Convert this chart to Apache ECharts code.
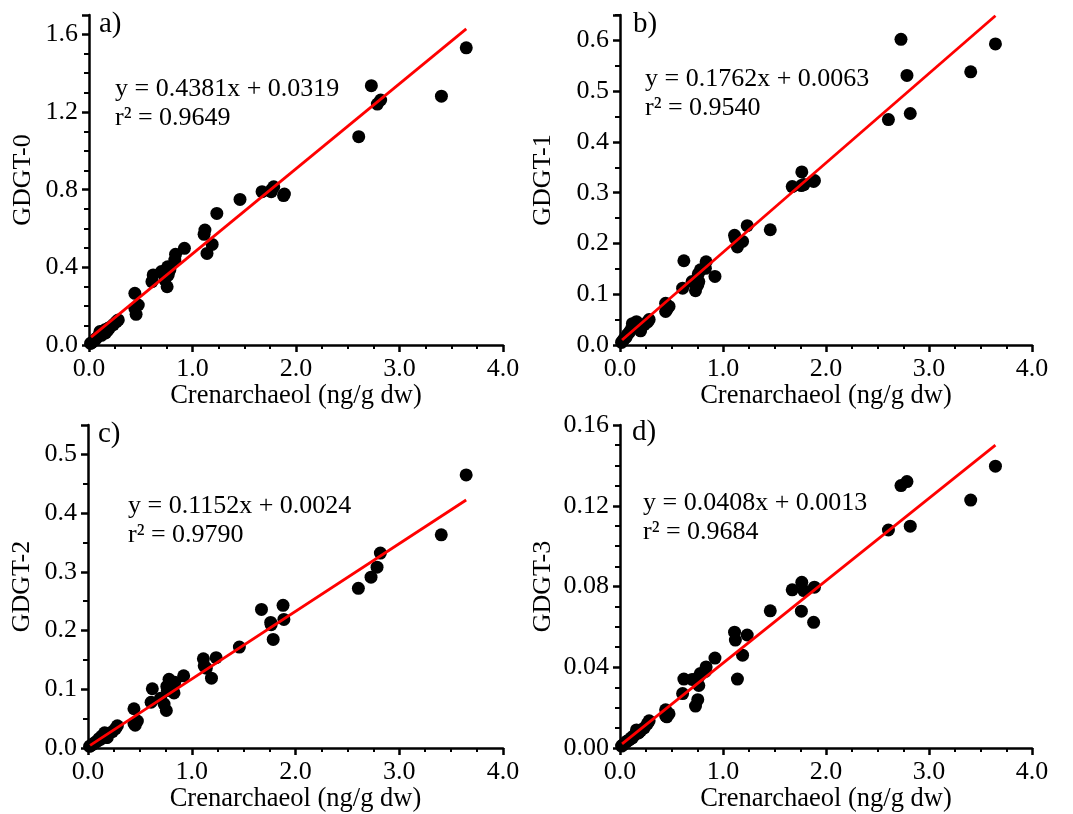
<!DOCTYPE html>
<html>
<head>
<meta charset="utf-8">
<script src="https://cdn.jsdelivr.net/npm/echarts@6/dist/echarts.min.js"></script>
<style>
  html, body { margin: 0; padding: 0; background: #fff; }
  #chart { width: 1073px; height: 814px; }
</style>
</head>
<body>
<div id="chart"></div>
<script>
// Crenarchaeol concentration (ng/g dw) for each sample
const crenarchaeol = [3.645, 3.405, 2.728, 2.786, 2.818, 2.606, 1.888, 1.880, 1.761, 1.785,
  1.765, 1.672, 1.459, 1.235, 1.190, 1.140, 1.112, 1.120, 0.922, 0.836,
  0.829, 0.781, 0.760, 0.700, 0.733, 0.755, 0.765, 0.620, 0.608, 0.443,
  0.476, 0.443, 0.455, 0.283, 0.265, 0.235, 0.186, 0.160, 0.154, 0.130,
  0.106, 0.090, 0.070, 0.058, 0.040, 0.026, 0.015, 0.200, 0.180, 0.120];

// GDGT concentrations for the same samples
const gdgt0 = [1.531, 1.282, 1.336, 1.241, 1.262, 1.073, 0.778, 0.770, 0.790, 0.815,
  0.800, 0.790, 0.750, 0.678, 0.518, 0.472, 0.570, 0.592, 0.498, 0.467,
  0.438, 0.386, 0.403, 0.378, 0.335, 0.300, 0.360, 0.361, 0.326, 0.266,
  0.206, 0.189, 0.158, 0.129, 0.120, 0.105, 0.086, 0.062, 0.078, 0.070,
  0.069, 0.045, 0.034, 0.026, 0.018, 0.012, 0.008, 0.090, 0.075, 0.050];
const gdgt1 = [0.593, 0.538, 0.602, 0.531, 0.456, 0.444, 0.324, 0.322, 0.314, 0.316,
  0.341, 0.312, 0.227, 0.235, 0.204, 0.193, 0.216, 0.210, 0.135, 0.164,
  0.151, 0.148, 0.140, 0.125, 0.107, 0.118, 0.125, 0.166, 0.112, 0.082,
  0.076, 0.066, 0.070, 0.050, 0.045, 0.040, 0.033, 0.046, 0.040, 0.036,
  0.030, 0.025, 0.020, 0.015, 0.012, 0.008, 0.005, 0.028, 0.038, 0.042];
const gdgt2 = [0.465, 0.363, 0.291, 0.308, 0.332, 0.272, 0.219, 0.243, 0.214, 0.185,
  0.210, 0.236, 0.172, 0.154, 0.119, 0.136, 0.152, 0.140, 0.123, 0.112,
  0.094, 0.117, 0.105, 0.085, 0.075, 0.064, 0.098, 0.101, 0.078, 0.067,
  0.046, 0.042, 0.039, 0.038, 0.033, 0.028, 0.018, 0.026, 0.022, 0.020,
  0.016, 0.012, 0.010, 0.008, 0.006, 0.004, 0.003, 0.025, 0.018, 0.015];
const gdgt3 = [0.1396, 0.1228, 0.1300, 0.1320, 0.1099, 0.1080, 0.0797, 0.0623, 0.0678, 0.0780,
  0.0821, 0.0784, 0.0680, 0.0560, 0.0460, 0.0342, 0.0574, 0.0535, 0.0446, 0.0402,
  0.0380, 0.0370, 0.0350, 0.0340, 0.0208, 0.0240, 0.0310, 0.0342, 0.0270, 0.0190,
  0.0170, 0.0160, 0.0155, 0.0135, 0.0120, 0.0100, 0.0080, 0.0090, 0.0070, 0.0060,
  0.0050, 0.0040, 0.0035, 0.0030, 0.0020, 0.0015, 0.0010, 0.0085, 0.0075, 0.0050];

// Linear fits (slope, intercept, r²) as reported on each panel
const fitSlopes = [0.4381, 0.1762, 0.1152, 0.0408];
const fitIntercepts = [0.0319, 0.0063, 0.0024, 0.0013];
const fitR2 = ['0.9649', '0.9540', '0.9790', '0.9684'];
const fitRange = [0.02, 3.645];

const panelLetters = ['a)', 'b)', 'c)', 'd)'];
const yNames = ['GDGT-0', 'GDGT-1', 'GDGT-2', 'GDGT-3'];
const yMax = [1.7, 0.65, 0.55, 0.16];
const yInterval = [0.4, 0.1, 0.1, 0.04];
const yMinorSplit = [4, 2, 2, 4];
const yDecimals = [1, 1, 1, 2];
const xName = 'Crenarchaeol (ng/g dw)';

const ySeries = [gdgt0, gdgt1, gdgt2, gdgt3];

const FONT = '"Liberation Serif", "Times New Roman", serif';

// plot-area boxes for the 2x2 layout
const grids = [
  { left: 89, top: 15, width: 414, height: 330 },
  { left: 620, top: 15, width: 412, height: 330 },
  { left: 88, top: 425, width: 415, height: 330 },
  { left: 620, top: 425, width: 412, height: 329 }
];
const yNameGaps = [53, 64, 53, 64];
const eqPos = [[115, 75], [645, 65], [128, 492], [643, 489]];
const letterPos = [[99, 10], [633, 10], [98, 420], [632, 418]];

const axisLineStyle = { color: '#000', width: 2.5 };

const xAxes = grids.map((g, i) => ({
  gridIndex: i, type: 'value', min: 0, max: 4, interval: 1,
  name: xName, nameLocation: 'middle', nameGap: 34,
  nameTextStyle: { fontFamily: FONT, fontSize: 26.5, color: '#000' },
  axisLine: { show: true, onZero: false, lineStyle: axisLineStyle },
  axisTick: { show: true, length: 7, lineStyle: { color: '#000', width: 2.5 } },
  minorTick: { show: true, splitNumber: 4, length: 4, lineStyle: { color: '#000', width: 2 } },
  axisLabel: { fontFamily: FONT, fontSize: 26, color: '#000', margin: 11,
    formatter: v => v.toFixed(1) },
  splitLine: { show: false }
}));

const yAxes = grids.map((g, i) => ({
  gridIndex: i, type: 'value', min: 0, max: yMax[i], interval: yInterval[i],
  name: yNames[i], nameLocation: 'middle', nameGap: yNameGaps[i], nameRotate: 90,
  nameTextStyle: { fontFamily: FONT, fontSize: 26, color: '#000' },
  axisLine: { show: true, onZero: false, lineStyle: axisLineStyle },
  axisTick: { show: true, length: 7, lineStyle: { color: '#000', width: 2.5 } },
  minorTick: { show: true, splitNumber: yMinorSplit[i], length: 5, lineStyle: { color: '#000', width: 2 } },
  axisLabel: { fontFamily: FONT, fontSize: 26, color: '#000', margin: 11,
    showMaxLabel: Math.abs(yMax[i] / yInterval[i] - Math.round(yMax[i] / yInterval[i])) < 1e-6,
    formatter: v => v.toFixed(yDecimals[i]) },
  splitLine: { show: false }
}));

const series = [];
ySeries.forEach((ys, i) => {
  series.push({
    type: 'scatter', xAxisIndex: i, yAxisIndex: i,
    symbol: 'circle', symbolSize: 13,
    itemStyle: { color: '#000', opacity: 1 },
    data: crenarchaeol.map((x, k) => [x, ys[k]]),
    z: 2
  });
  series.push({
    type: 'line', xAxisIndex: i, yAxisIndex: i,
    showSymbol: false, symbol: 'none',
    lineStyle: { color: '#ff0000', width: 2.8 },
    data: fitRange.map(x => [x, fitSlopes[i] * x + fitIntercepts[i]]),
    z: 3
  });
});

const graphics = [];
for (let i = 0; i < 4; i++) {
  graphics.push({
    type: 'text', left: eqPos[i][0], top: eqPos[i][1],
    style: {
      text: 'y = ' + fitSlopes[i].toFixed(4) + 'x + ' + fitIntercepts[i].toFixed(4) +
        '\nr\u00B2 = ' + fitR2[i],
      font: '26px ' + FONT, fill: '#000', lineHeight: 29
    }
  });
  graphics.push({
    type: 'text', left: letterPos[i][0], top: letterPos[i][1],
    style: { text: panelLetters[i], font: '29px ' + FONT, fill: '#000' }
  });
}

const chart = echarts.init(document.getElementById('chart'), null, { renderer: 'canvas' });
chart.setOption({
  animation: false,
  backgroundColor: '#fff',
  grid: grids.map(g => Object.assign({ containLabel: false }, g)),
  xAxis: xAxes,
  yAxis: yAxes,
  series: series,
  graphic: graphics
});
</script>
</body>
</html>
